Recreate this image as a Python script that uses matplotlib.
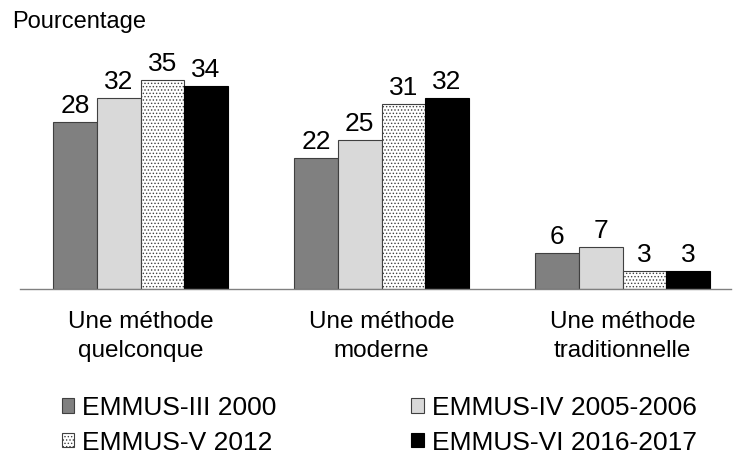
import matplotlib.pyplot as plt
import numpy as np

plt.rcParams['font.family'] = ['Liberation Sans', 'DejaVu Sans']
plt.rcParams['hatch.linewidth'] = 0.6

categories = ['Une méthode\nquelconque', 'Une méthode\nmoderne', 'Une méthode\ntraditionnelle']
series = ['EMMUS-III 2000', 'EMMUS-IV 2005-2006', 'EMMUS-V 2012', 'EMMUS-VI 2016-2017']
emmus_iii = [28, 22, 6]
emmus_iv = [32, 25, 7]
emmus_v = [35, 31, 3]
emmus_vi = [34, 32, 3]

values = [emmus_iii, emmus_iv, emmus_v, emmus_vi]
faces = ['#808080', '#d9d9d9', 'white', 'black']
edges = ['#404040', '#404040', '#404040', 'black']
hatches = [None, None, '.....', None]

fig = plt.figure(figsize=(7.33, 4.59), dpi=100)
ax = fig.add_axes([0.0273, 0.3704, 0.97, 0.52])

x = np.arange(len(categories))
w = 0.181
handles = []
for i, vals in enumerate(values):
    pos = x + (i - 1.5) * w
    bars = ax.bar(pos, vals, width=w, color=faces[i], edgecolor=edges[i],
                  linewidth=0.8, hatch=hatches[i], label=series[i])
    handles.append(bars)
    for p, v in zip(pos, vals):
        ax.text(p, v + 0.7, str(v), ha='center', va='bottom', fontsize=19)

ax.set_xlim(-0.5, 2.45)
ax.set_ylim(0, 40)
ax.set_yticks([])
ax.set_xticks(x)
ax.set_xticklabels(categories, fontsize=17.5, linespacing=1.38)
ax.tick_params(axis='x', length=0, pad=16)
for s in ['top', 'right', 'left']:
    ax.spines[s].set_visible(False)
ax.spines['bottom'].set_color('#808080')
ax.spines['bottom'].set_linewidth(1)

fig.text(0.016, 0.952, 'Pourcentage', fontsize=17, va='center', ha='left')

# row-wise order: III, IV / V, VI
order = [0, 2, 1, 3]
fig.legend(handles=[handles[k] for k in order], labels=[series[k] for k in order],
           loc='lower left', bbox_to_anchor=(0.066, -0.019), borderpad=0,
           ncol=2, frameon=False, fontsize=19, handlelength=0.48,
           handleheight=0.48, handletextpad=0.3, columnspacing=5.1,
           labelspacing=0.4)

fig.savefig('out.png', dpi=100)
